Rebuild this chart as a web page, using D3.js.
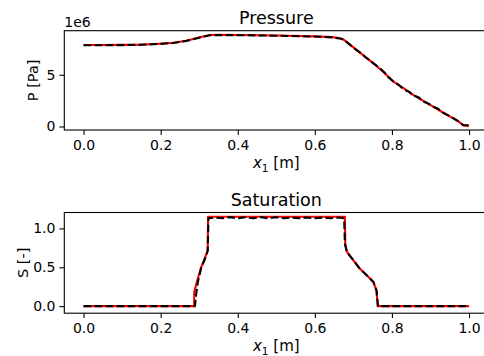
<!DOCTYPE html>
<html>
<head>
<meta charset="utf-8">
<script src="https://cdn.jsdelivr.net/npm/d3@7"></script>
<style>
  body { margin: 0; background: #fff; }
  svg { font-family: "DejaVu Sans", sans-serif; }
</style>
</head>
<body>
<div id="chart"></div>
<script>
// pressure, values in 1e6 Pa
const pRefX = [0, 0.05, 0.10, 0.15, 0.198, 0.233, 0.267, 0.302, 0.328, 0.35, 0.405, 0.5, 0.6, 0.645, 0.665, 0.674, 0.70, 0.752, 0.78, 0.804, 0.83, 0.855, 0.88, 0.907, 0.93, 0.959, 0.975, 0.985, 1.0];
const pRefY = [7.88, 7.88, 7.89, 7.92, 8.01, 8.10, 8.30, 8.63, 8.85, 8.86, 8.85, 8.80, 8.72, 8.64, 8.53, 8.43, 7.65, 6.11, 5.20, 4.33, 3.72, 3.05, 2.50, 1.92, 1.40, 0.79, 0.42, 0.10, 0.06];
const pNumX = [0, 0.05, 0.10, 0.15, 0.198, 0.233, 0.267, 0.302, 0.328, 0.35, 0.405, 0.5, 0.6, 0.645, 0.665, 0.674, 0.69, 0.70, 0.72, 0.73, 0.752, 0.765, 0.78, 0.79, 0.804, 0.82, 0.83, 0.845, 0.855, 0.87, 0.88, 0.895, 0.907, 0.92, 0.93, 0.945, 0.959, 0.975, 0.985, 1.0];
const pNumY = [7.86, 7.86, 7.87, 7.90, 7.99, 8.08, 8.28, 8.61, 8.83, 8.84, 8.83, 8.78, 8.70, 8.62, 8.51, 8.40, 7.95, 7.60, 7.10, 6.75, 6.10, 5.75, 5.25, 4.80, 4.35, 3.95, 3.60, 3.35, 3.02, 2.80, 2.45, 2.20, 1.90, 1.72, 1.38, 1.10, 0.80, 0.45, 0.14, 0.12];

// saturation
const sRefX = [0, 0.287, 0.287, 0.295, 0.305, 0.315, 0.322, 0.323, 0.50, 0.678, 0.679, 0.683, 0.700, 0.717, 0.734, 0.752, 0.760, 0.763, 0.80, 1.0];
const sRefY = [0, 0, 0.18, 0.33, 0.50, 0.62, 0.72, 1.15, 1.15, 1.15, 0.80, 0.70, 0.59, 0.48, 0.40, 0.31, 0.20, 0.0, 0, 0];
const sNumX = [0, 0.289, 0.292, 0.297, 0.305, 0.315, 0.322, 0.324, 0.34, 0.36, 0.38, 0.40, 0.42, 0.44, 0.46, 0.48, 0.50, 0.52, 0.54, 0.56, 0.58, 0.60, 0.62, 0.64, 0.66, 0.676, 0.678, 0.683, 0.700, 0.717, 0.734, 0.752, 0.760, 0.764, 0.80, 1.0];
const sNumY = [0, 0, 0.15, 0.32, 0.49, 0.61, 0.71, 1.13, 1.14, 1.13, 1.145, 1.13, 1.145, 1.13, 1.145, 1.13, 1.145, 1.13, 1.14, 1.13, 1.14, 1.13, 1.14, 1.13, 1.14, 1.13, 0.80, 0.70, 0.59, 0.48, 0.40, 0.31, 0.20, 0.0, 0, 0];

const xTicks = [0, 0.2, 0.4, 0.6, 0.8, 1.0];
const pTicks = [0, 5];
const sTicks = [0, 0.5, 1.0];

const W = 484, H = 356;
const left = 64.3, right = 488.3;

const svg = d3.select("#chart").append("svg")
  .attr("width", W)
  .attr("height", H);

function panel({ id, top, bottom, yDomain, yTicks, yFmt, title, titleY, yLabel, yLabelX, series, offsetText }) {
  const x = d3.scaleLinear().domain([-0.05, 1.05]).range([left, right]);
  const y = d3.scaleLinear().domain(yDomain).range([bottom, top]);

  svg.append("clipPath").attr("id", id)
    .append("rect")
    .attr("x", left).attr("y", top)
    .attr("width", right - left).attr("height", bottom - top);

  const g = svg.append("g").attr("clip-path", `url(#${id})`);
  const line = d3.line().x(d => x(d[0])).y(d => y(d[1]));

  series.forEach(s => {
    g.append("path")
      .datum(d3.zip(s.xs, s.ys))
      .attr("fill", "none")
      .attr("stroke", s.color)
      .attr("stroke-width", 2.1)
      .attr("stroke-dasharray", s.dash || null)
      .attr("stroke-linejoin", "round")
      .attr("d", line);
  });

  const xAxis = svg.append("g")
    .attr("transform", `translate(0,${bottom})`)
    .call(d3.axisBottom(x).tickValues(xTicks).tickFormat(d3.format(".1f"))
      .tickSize(4.9).tickSizeOuter(0).tickPadding(4.9));
  const yAxis = svg.append("g")
    .attr("transform", `translate(${left},0)`)
    .call(d3.axisLeft(y).tickValues(yTicks).tickFormat(yFmt)
      .tickSize(4.9).tickSizeOuter(0).tickPadding(4));

  [xAxis, yAxis].forEach(a => {
    a.select(".domain").remove();
    a.selectAll("line").attr("stroke", "#000").attr("stroke-width", 1.1);
    a.selectAll("text").attr("fill", "#000").style("font-size", "14px")
      .style("font-family", "DejaVu Sans");
  });

  svg.append("rect")
    .attr("x", left).attr("y", top)
    .attr("width", right - left).attr("height", bottom - top)
    .attr("fill", "none").attr("stroke", "#000").attr("stroke-width", 1.1);

  svg.append("text")
    .attr("x", (left + right) / 2).attr("y", titleY)
    .attr("text-anchor", "middle")
    .style("font-size", "17.5px")
    .text(title);

  svg.append("text")
    .attr("transform", `translate(${yLabelX},${(top + bottom) / 2}) rotate(-90)`)
    .attr("text-anchor", "middle")
    .style("font-size", "14.5px")
    .text(yLabel);

  const xl = svg.append("text")
    .attr("x", (left + right) / 2).attr("y", bottom + 38)
    .attr("text-anchor", "middle")
    .style("font-size", "15px");
  xl.append("tspan").style("font-style", "italic").text("x");
  xl.append("tspan").attr("dy", 3.5).style("font-size", "10.5px").text("1");
  xl.append("tspan").attr("dy", -3.5).text(" [m]");

  if (offsetText) {
    svg.append("text")
      .attr("x", left).attr("y", top - 3.4)
      .style("font-size", "14px")
      .text(offsetText);
  }
}

panel({
  id: "clipP", top: 30.7, bottom: 130,
  yDomain: [-0.34, 9.265], yTicks: pTicks, yFmt: d3.format("d"),
  title: "Pressure", titleY: 24, yLabel: "P [Pa]", yLabelX: 38.4,
  offsetText: "1e6",
  series: [
    { xs: pRefX, ys: pRefY, color: "red" },
    { xs: pNumX, ys: pNumY, color: "#000", dash: "7.7,3.3" }
  ]
});

panel({
  id: "clipS", top: 212.5, bottom: 313.2,
  yDomain: [-0.091, 1.205], yTicks: sTicks, yFmt: d3.format(".1f"),
  title: "Saturation", titleY: 206, yLabel: "S [-]", yLabelX: 28.4,
  series: [
    { xs: sRefX, ys: sRefY, color: "red" },
    { xs: sNumX, ys: sNumY, color: "#000", dash: "7.7,3.3" }
  ]
});
</script>
</body>
</html>
